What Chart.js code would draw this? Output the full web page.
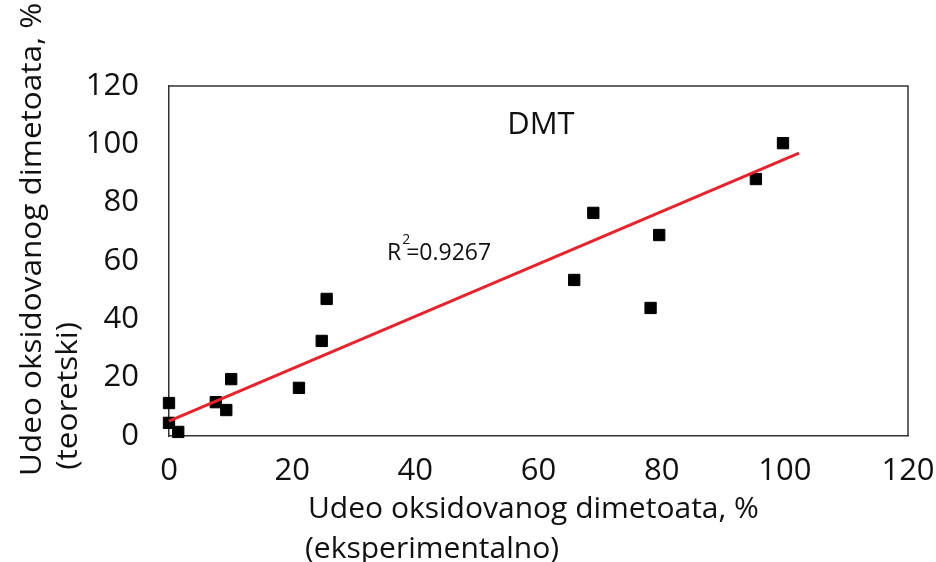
<!DOCTYPE html>
<html>
<head>
<meta charset="utf-8">
<script src="https://cdn.jsdelivr.net/npm/chart.js@4/dist/chart.umd.min.js"></script>
<style>html,body{margin:0;padding:0;background:#fff;overflow:hidden}</style>
</head>
<body>
<canvas id="c" width="936" height="562"></canvas>
<script>
// ---- data ----
const expX  = [0, 0, 1.5, 7.6, 9.3, 10.1, 21.1, 24.8, 25.6, 65.8, 68.9, 78.2, 79.6, 95.3, 99.7];
const theoY = [11.3, 4.5, 1.4, 11.6, 8.9, 19.5, 16.5, 32.6, 47.0, 53.5, 76.5, 43.9, 68.9, 88.1, 100.4];
const trendX = [0, 102.3];
const trendY = [5.1, 97.0];
const xTicks = [0, 20, 40, 60, 80, 100, 120];
const yTicks = [0, 20, 40, 60, 80, 100, 120];
const seriesName = 'DMT';
const r2Value = '0.9267';
const xTitle = ['Udeo oksidovanog dimetoata, %', '(eksperimentalno)'];
const yTitle = ['Udeo oksidovanog dimetoata, %', '(teoretski)'];

const FONT = '"Open Sans", "Noto Sans", sans-serif';
const INK = '#111';

const points = expX.map((x, i) => ({x, y: theoY[i]}));
const trend = trendX.map((x, i) => ({x, y: trendY[i]}));

const overlay = {
  id: 'overlay',
  afterDraw(chart) {
    const ctx = chart.ctx;
    const {left, right, top, bottom} = chart.chartArea;
    const xs = chart.scales.x, ys = chart.scales.y;
    ctx.save();
    // top and right frame lines
    ctx.strokeStyle = '#333';
    ctx.lineWidth = 1.5;
    ctx.beginPath();
    ctx.moveTo(left, top); ctx.lineTo(right, top); ctx.lineTo(right, bottom);
    ctx.stroke();

    ctx.fillStyle = INK;
    // series label
    ctx.font = '31px ' + FONT;
    ctx.textAlign = 'center';
    ctx.textBaseline = 'middle';
    ctx.fillText(seriesName, xs.getPixelForValue(60.4), ys.getPixelForValue(106.6));

    // R^2 label
    const rx = xs.getPixelForValue(35.4), ry = ys.getPixelForValue(60.3);
    ctx.textAlign = 'left';
    ctx.textBaseline = 'alphabetic';
    ctx.font = '23px ' + FONT;
    ctx.fillText('R', rx, ry);
    const rw = ctx.measureText('R').width;
    ctx.font = '14px ' + FONT;
    ctx.fillText('2', rx + rw + 1, ry - 16);
    ctx.font = '23px ' + FONT;
    ctx.fillText('=' + r2Value, rx + rw + 5, ry);

    // axis titles (left aligned, wrapped like Excel)
    ctx.font = '30px ' + FONT;
    ctx.textAlign = 'left';
    ctx.textBaseline = 'alphabetic';
    ctx.fillText(xTitle[0], 308, 518);
    ctx.fillText(xTitle[1], 305, 558);

    ctx.save();
    ctx.translate(41, 476);
    ctx.rotate(-Math.PI / 2);
    ctx.scale(1.05, 1);
    ctx.fillText(yTitle[0], 0, 0);
    ctx.fillText(yTitle[1], 6, 36);
    ctx.restore();
    ctx.restore();
  }
};

new Chart(document.getElementById('c'), {
  type: 'scatter',
  data: {
    datasets: [
      {
        type: 'line',
        label: 'trend',
        data: trend,
        borderColor: '#e8232b',
        borderWidth: 3,
        pointRadius: 0,
        fill: false,
        clip: false,
        order: 0
      },
      {
        label: seriesName,
        data: points,
        pointStyle: 'rect',
        pointRadius: 8,
        pointBackgroundColor: '#000',
        pointBorderColor: '#000',
        pointBorderWidth: 1,
        showLine: false,
        clip: false,
        order: 1
      }
    ]
  },
  options: {
    responsive: false,
    animation: false,
    devicePixelRatio: 1,
    layout: {padding: {left: 0, top: 86, right: 28, bottom: 0}},
    plugins: {legend: {display: false}, tooltip: {enabled: false}},
    scales: {
      x: {
        type: 'linear',
        min: 0, max: 120,
        afterBuildTicks: s => { s.ticks = xTicks.map(v => ({value: v})); },
        afterFit: s => { s.height = 126; s.paddingLeft = 0; s.paddingRight = 0; },
        grid: {display: false, drawTicks: false},
        border: {display: true, color: '#333', width: 1.5},
        ticks: {padding: 17, color: INK, font: {family: FONT, size: 31}, maxRotation: 0, autoSkip: false}
      },
      y: {
        type: 'linear',
        min: 0, max: 120,
        afterBuildTicks: s => { s.ticks = yTicks.map(v => ({value: v})); },
        afterFit: s => { s.width = 169; s.paddingTop = 0; s.paddingBottom = 0; },
        grid: {display: false, drawTicks: false},
        border: {display: true, color: '#333', width: 1.5},
        ticks: {padding: 30, color: INK, font: {family: FONT, size: 31}, autoSkip: false}
      }
    }
  },
  plugins: [overlay]
});
</script>
</body>
</html>
